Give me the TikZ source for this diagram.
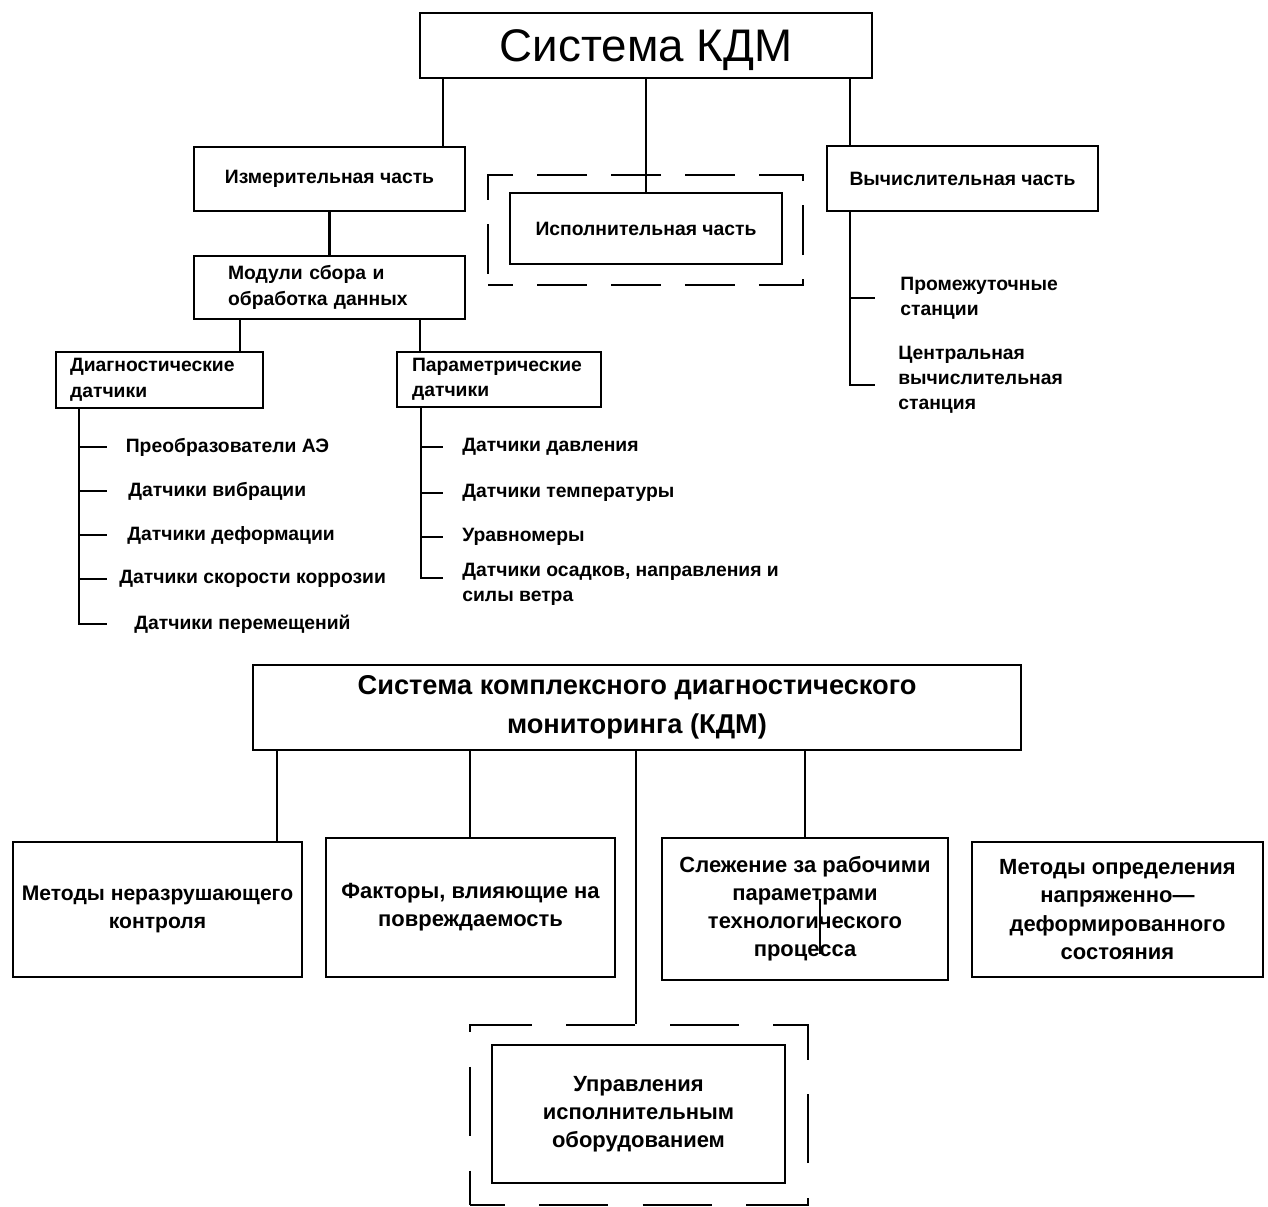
\documentclass[tikz,border=0pt]{standalone}
\usepackage{fontspec}
\setmainfont{Liberation Sans}
\usepackage{tikz}
\usetikzlibrary{positioning}

\begin{document}
\begin{tikzpicture}[
    x=0.02cm, y=-0.02cm,
    box/.style={draw, line width=1.6pt, align=center, font=\fontsize{11}{14.5}\selectfont\bfseries},
    lbox/.style={box, align=left},
    bigbox/.style={box, inner xsep=1pt, font=\fontsize{12.5}{16}\selectfont\bfseries},
    frame/.style={draw, line width=1.6pt, dash pattern=on 1cm off 0.48cm, dash phase=0.5cm},
    item/.style={anchor=west, align=left, inner xsep=0.37cm, inner ysep=0pt, font=\fontsize{11}{14.2}\selectfont\bfseries},
    conn/.style={line width=1.6pt},
]
\useasboundingbox (0,0) rectangle (1268,1207);

% --- Upper scheme: Система КДМ ---
\node[box, font=\fontsize{26}{30}\selectfont, text depth=0pt, minimum width=9.04cm, minimum height=1.3cm] at (646,45.5) (kdm) {Система КДМ};

\node[box, minimum width=5.42cm, minimum height=1.28cm] at (329.5,179) (izm) {Измерительная часть};
\node[frame, minimum width=6.3cm, minimum height=2.2cm] at (645.5,230) (ispfr) {};
\node[box, minimum width=5.44cm, minimum height=1.42cm] at (646,228.5) (isp) {Исполнительная часть};
\node[box, minimum width=5.42cm, minimum height=1.3cm] at (962.5,178.5) (vych) {Вычислительная часть};

\node[lbox, text width=4.06cm, inner xsep=0.68cm, minimum height=1.26cm] at (329.5,287.5) (mod) {Модули сбора и\\обработка данных};
\node[lbox, text width=3.58cm, inner xsep=0.28cm, minimum height=1.12cm] at (159.5,380) (diag) {Диагностические\\датчики};
\node[lbox, text width=3.48cm, inner xsep=0.3cm, minimum height=1.1cm] at (499,379.5) (param) {Параметрические\\датчики};

% --- Sensor lists ---
\node[item] at (107,447) (d1) {Преобразователи АЭ};
\node[item, inner xsep=0.42cm] at (107,491) (d2) {Датчики вибрации};
\node[item, inner xsep=0.4cm] at (107,535) (d3) {Датчики деформации};
\node[item, inner xsep=0.24cm] at (107,579) (d4) {Датчики скорости коррозии};
\node[item, inner xsep=0.54cm] at (107,624) (d5) {Датчики перемещений};

\node[item, inner xsep=0.38cm] at (443,447) (p1) {Датчики давления};
\node[item, inner xsep=0.38cm] at (443,493) (p2) {Датчики температуры};
\node[item, inner xsep=0.38cm] at (443,537) (p3) {Уравномеры};
\node[item, inner xsep=0.38cm] at (443,584.5) (p4) {Датчики осадков, направления и\\силы ветра};

\node[item, inner xsep=0.5cm] at (875,298) (s1) {Промежуточные\\станции};
\node[item, inner xsep=0.46cm] at (875,380) (s2) {Центральная\\вычислительная\\станция};

% --- Bus positions ---
\coordinate (xizm) at (443,0);
\coordinate (xvych) at (850,0);
\coordinate (xdiag) at (240,0);
\coordinate (xparam) at (420,0);
\coordinate (xdb) at (79,0);
\coordinate (xpb) at (421,0);

% --- Upper connectors ---
\draw[conn] (kdm.south -| xizm) -- (izm.north -| xizm);
\draw[conn] (kdm.south) -- (isp.north);
\draw[conn] (kdm.south -| xvych) -- (vych.north -| xvych);
\draw[conn] (izm.south) -- (mod.north);
\draw[conn] (mod.south -| xdiag) -- (diag.north -| xdiag);
\draw[conn] (mod.south -| xparam) -- (param.north -| xparam);

\foreach \n in {d1,d2,d3,d4,d5}
    \draw[conn] (diag.south -| xdb) |- (\n.west);
\foreach \n in {p1,p2,p3}
    \draw[conn] (param.south -| xpb) |- (\n.west);
\draw[conn] (param.south -| xpb) |- ([yshift=0.13cm]p4.west);

\draw[conn] (vych.south -| xvych) |- (s1.west);
\draw[conn] (vych.south -| xvych) |- ([yshift=-0.1cm]s2.west);

% --- Lower scheme: Система комплексного диагностического мониторинга ---
\node[box, font=\fontsize{15.5}{22}\selectfont\bfseries, minimum width=15.36cm, minimum height=1.7cm] at (637,707.5) (kdmfull) {Система комплексного диагностического\\мониторинга (КДМ)};

\node[bigbox, font=\fontsize{12}{16}\selectfont\bfseries, minimum width=5.78cm, minimum height=2.7cm] at (157.5,909.5) (nk) {Методы неразрушающего\\контроля};
\node[bigbox, minimum width=5.78cm, minimum height=2.78cm] at (470.5,907.5) (fakt) {Факторы, влияющие на\\повреждаемость};
\node[bigbox, minimum width=5.72cm, minimum height=2.84cm] at (805,909) (sled) {Слежение за рабочими\\параметрами\\технологического\\процесса};
\node[bigbox, minimum width=5.82cm, minimum height=2.7cm] at (1117.5,909.5) (nds) {Методы определения\\напряженно—\\деформированного\\состояния};

\node[frame, dash pattern=on 1.38cm off 0.692cm, dash phase=0.69cm, minimum width=6.76cm, minimum height=3.6cm] at (639,1115) (uprfr) {};
\node[bigbox, minimum width=5.86cm, minimum height=2.76cm] at (638.5,1114) (upr) {Управления\\исполнительным\\оборудованием};

\coordinate (xnk) at (277,0);
\coordinate (xfakt) at (470,0);
\coordinate (xupr) at (636,0);

% --- Lower connectors ---
\draw[conn] (kdmfull.south -| xnk) -- (nk.north -| xnk);
\draw[conn] (kdmfull.south -| xfakt) -- (fakt.north -| xfakt);
\draw[conn] (kdmfull.south -| xupr) -- (uprfr.north -| xupr);
\draw[conn] (kdmfull.south -| sled.north) -- (sled.north);
\draw[conn] ([xshift=0.3cm, yshift=0.2cm]sled.center) -- ([xshift=0.3cm, yshift=-0.9cm]sled.center);

\end{tikzpicture}
\end{document}
